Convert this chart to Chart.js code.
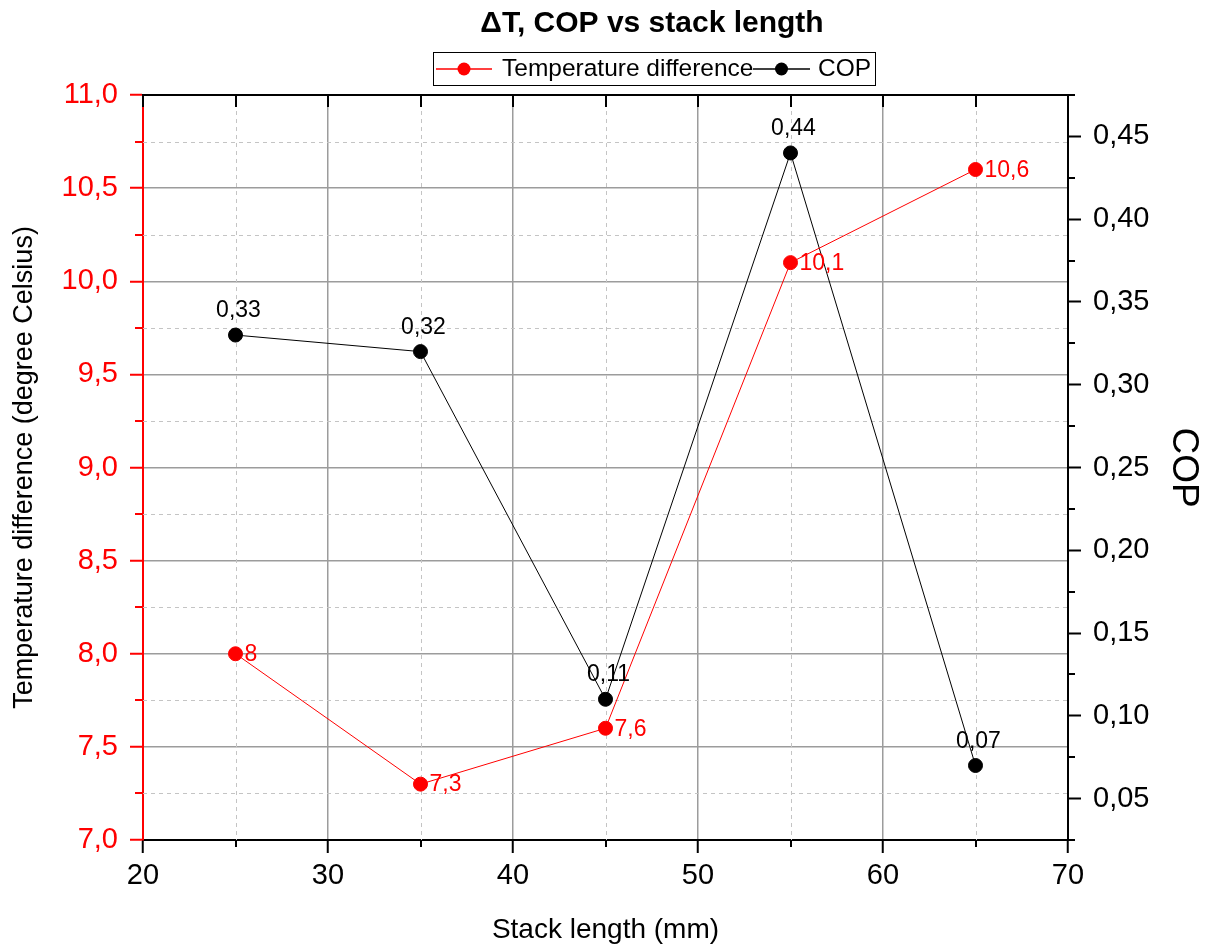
<!DOCTYPE html>
<html>
<head>
<meta charset="utf-8">
<script src="https://cdn.jsdelivr.net/npm/chart.js@4.4.0/dist/chart.umd.min.js"></script>
<style>
html, body { margin: 0; padding: 0; background: #fff; }
</style>
</head>
<body>
<canvas id="chart" width="1209" height="949"></canvas>
<script>
// Data
const stackLength = [25, 35, 45, 55, 65];
const tempDiff = [8, 7.3, 7.6, 10.1, 10.6];
const cop = [0.33, 0.32, 0.11, 0.44, 0.07];

// Axis ticks
const xTicks = [20, 30, 40, 50, 60, 70];
const xMinor = [25, 35, 45, 55, 65];
const tempTicks = [7.0, 7.5, 8.0, 8.5, 9.0, 9.5, 10.0, 10.5, 11.0];
const tempMinor = [7.25, 7.75, 8.25, 8.75, 9.25, 9.75, 10.25, 10.75];
const copTicks = [0.05, 0.10, 0.15, 0.20, 0.25, 0.30, 0.35, 0.40, 0.45];
const copMinor = [0.025, 0.075, 0.125, 0.175, 0.225, 0.275, 0.325, 0.375, 0.425, 0.475];

const FONT = "'Liberation Sans', Arial, sans-serif";
const RED = '#ff0000';
const comma = v => String(v).replace('.', ',');

function toPoints(ys) {
    return stackLength.map((s, i) => ({ x: s, y: ys[i] }));
}

function setTicks(values) {
    return scale => { scale.ticks = values.map(v => ({ value: v })); };
}

// Origin-style extras: dashed minor grid, minor ticks, top frame, labels, title and legend
const originLook = {
    id: 'originLook',
    beforeDatasetsDraw(chart) {
        const { ctx, chartArea: a, scales } = chart;
        const x = scales.x, y = scales.y, y1 = scales.y1;
        ctx.save();
        ctx.strokeStyle = '#c4c4c4';
        ctx.lineWidth = 1;
        ctx.setLineDash([4, 4]);
        ctx.beginPath();
        xMinor.forEach(v => {
            const px = Math.round(x.getPixelForValue(v)) + 0.5;
            ctx.moveTo(px, a.top);
            ctx.lineTo(px, a.bottom);
        });
        tempMinor.forEach(v => {
            const py = Math.round(y.getPixelForValue(v)) + 0.5;
            ctx.moveTo(a.left, py);
            ctx.lineTo(a.right, py);
        });
        ctx.stroke();
        ctx.setLineDash([]);

        // minor ticks
        ctx.lineWidth = 2;
        ctx.strokeStyle = RED;
        ctx.beginPath();
        tempMinor.forEach(v => {
            const py = Math.round(y.getPixelForValue(v));
            ctx.moveTo(a.left, py);
            ctx.lineTo(a.left - 8, py);
        });
        ctx.stroke();
        ctx.strokeStyle = '#000';
        ctx.beginPath();
        copMinor.forEach(v => {
            const py = Math.round(y1.getPixelForValue(v));
            ctx.moveTo(a.right, py);
            ctx.lineTo(a.right + 7, py);
        });
        xMinor.forEach(v => {
            const px = Math.round(x.getPixelForValue(v));
            ctx.moveTo(px, a.bottom);
            ctx.lineTo(px, a.bottom + 7);
        });
        // top frame with inward ticks
        ctx.moveTo(a.left - 1, a.top);
        ctx.lineTo(a.right + 1, a.top);
        xTicks.concat(xMinor).forEach(v => {
            const px = Math.round(x.getPixelForValue(v));
            ctx.moveTo(px, a.top);
            ctx.lineTo(px, a.top + 12);
        });
        ctx.stroke();
        ctx.restore();
    },
    afterDatasetsDraw(chart) {
        const { ctx } = chart;
        ctx.save();
        ctx.font = `23px ${FONT}`;
        chart.getDatasetMeta(0).data.forEach((pt, i) => {
            ctx.fillStyle = RED;
            ctx.textAlign = 'left';
            ctx.textBaseline = 'middle';
            ctx.fillText(comma(tempDiff[i]), pt.x + 9, pt.y + 1);
        });
        chart.getDatasetMeta(1).data.forEach((pt, i) => {
            ctx.fillStyle = '#000';
            ctx.textAlign = 'center';
            ctx.textBaseline = 'alphabetic';
            ctx.fillText(cop[i].toFixed(2).replace('.', ','), pt.x + 3, pt.y - 18);
        });
        ctx.restore();
    },
    afterDraw(chart) {
        const { ctx } = chart;
        ctx.save();
        // title
        ctx.fillStyle = '#000';
        ctx.textAlign = 'center';
        ctx.textBaseline = 'alphabetic';
        ctx.font = `bold 30px ${FONT}`;
        ctx.fillText('\u0394T, COP vs stack length', 652, 32);

        // legend box
        ctx.lineWidth = 1;
        ctx.strokeStyle = '#000';
        ctx.strokeRect(433.5, 52.5, 442, 33);
        const items = [
            { label: 'Temperature difference', color: RED, x0: 436, x1: 492, tx: 502 },
            { label: 'COP', color: '#000', x0: 753, x1: 810, tx: 818 },
        ];
        ctx.font = `24.5px ${FONT}`;
        ctx.textAlign = 'left';
        items.forEach(it => {
            ctx.strokeStyle = it.color;
            ctx.lineWidth = 1.5;
            ctx.beginPath();
            ctx.moveTo(it.x0, 69);
            ctx.lineTo(it.x1, 69);
            ctx.stroke();
            ctx.fillStyle = it.color;
            ctx.beginPath();
            ctx.arc((it.x0 + it.x1) / 2, 69, 6.5, 0, Math.PI * 2);
            ctx.fill();
            ctx.fillStyle = '#000';
            ctx.fillText(it.label, it.tx, 76);
        });
        ctx.restore();
    }
};

new Chart('chart', {
    type: 'line',
    data: {
        datasets: [{
            label: 'Temperature difference',
            data: toPoints(tempDiff),
            yAxisID: 'y',
            borderColor: RED,
            backgroundColor: RED,
            borderWidth: 1,
            pointRadius: 7,
            pointBorderWidth: 1,
            pointHoverRadius: 7,
            tension: 0,
        }, {
            label: 'COP',
            data: toPoints(cop),
            yAxisID: 'y1',
            borderColor: '#000',
            backgroundColor: '#000',
            borderWidth: 1,
            pointRadius: 7,
            pointBorderWidth: 1,
            pointHoverRadius: 7,
            tension: 0,
        }],
    },
    options: {
        responsive: false,
        animation: false,
        devicePixelRatio: 1,
        layout: { padding: { top: 95, left: 0, right: 0, bottom: 0 } },
        plugins: {
            legend: { display: false },
            title: { display: false },
            tooltip: { enabled: false },
        },
        scales: {
            x: {
                type: 'linear',
                min: 20,
                max: 70,
                afterBuildTicks: setTicks(xTicks),
                afterFit: s => { s.height = 109; },
                grid: { color: '#9c9c9c', lineWidth: 1.5, tickLength: 13, tickColor: '#000', tickWidth: 2 },
                border: { color: '#000', width: 2 },
                ticks: { color: '#000', font: { family: FONT, size: 29 }, padding: 6, maxRotation: 0 },
                title: {
                    display: true,
                    text: 'Stack length (mm)',
                    color: '#000',
                    font: { family: FONT, size: 28 },
                    padding: { top: 0, bottom: 2 },
                },
            },
            y: {
                type: 'linear',
                position: 'left',
                min: 7,
                max: 11,
                afterBuildTicks: setTicks(tempTicks),
                afterFit: s => { s.width = 143; },
                grid: { color: '#9c9c9c', lineWidth: 1.5, tickLength: 13, tickColor: RED, tickWidth: 2 },
                border: { color: RED, width: 2 },
                ticks: {
                    color: RED,
                    font: { family: FONT, size: 29 },
                    padding: 12,
                    callback: v => v.toFixed(1).replace('.', ','),
                },
                title: {
                    display: true,
                    text: 'Temperature difference (degree Celsius)',
                    color: '#000',
                    font: { family: FONT, size: 27 },
                    padding: { top: 8, bottom: 0 },
                },
            },
            y1: {
                type: 'linear',
                position: 'right',
                min: 0.025,
                max: 0.475,
                afterBuildTicks: setTicks(copTicks),
                afterFit: s => { s.width = 141; },
                grid: { drawOnChartArea: false, tickLength: 13, tickColor: '#000', tickWidth: 2 },
                border: { color: '#000', width: 2 },
                ticks: {
                    color: '#000',
                    font: { family: FONT, size: 29 },
                    padding: 12,
                    callback: v => v.toFixed(2).replace('.', ','),
                },
                title: {
                    display: true,
                    text: 'COP',
                    color: '#000',
                    font: { family: FONT, size: 37 },
                    padding: { top: 4, bottom: 0 },
                },
            },
        },
    },
    plugins: [originLook],
});
</script>
</body>
</html>
